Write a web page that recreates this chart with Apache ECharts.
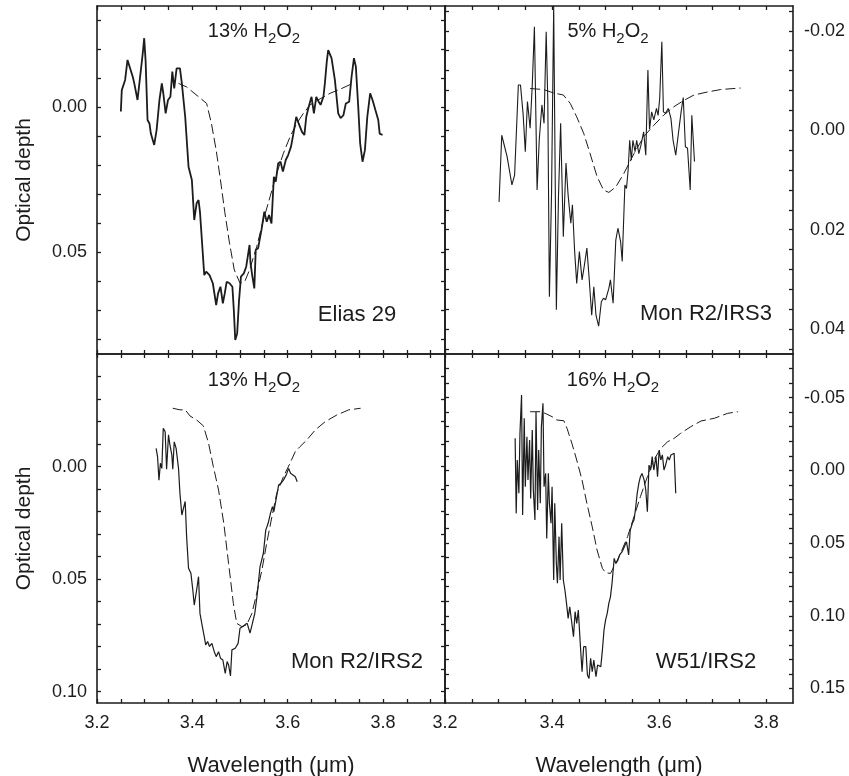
<!DOCTYPE html>
<html>
<head>
<meta charset="utf-8">
<title>Optical depth, 3.2-3.9 um</title>
<script src="https://cdn.jsdelivr.net/npm/echarts@6/dist/echarts.min.js"></script>
<style>
  html, body { margin: 0; padding: 0; background: #fff; }
  #chart { width: 849px; height: 776px; }
</style>
</head>
<body>
<div id="chart"></div>
<script>
// observed spectra and H2O2 models, [wavelength (um), optical depth]
var elias29 = [
  [3.250,0.0014],[3.252,-0.0060],[3.259,-0.0095],[3.264,-0.0164],[3.266,-0.0160],[3.275,-0.0106],[3.278,-0.0085],
  [3.285,-0.0026],[3.288,-0.0021],[3.296,-0.0187],[3.299,-0.0239],[3.302,-0.0160],[3.306,0.0043],[3.310,0.0055],
  [3.313,0.0090],[3.320,0.0129],[3.325,0.0078],[3.331,-0.0026],[3.336,-0.0083],[3.339,-0.0050],[3.344,0.0020],
  [3.349,-0.0026],[3.354,-0.0037],[3.358,-0.0124],[3.362,-0.0066],[3.367,-0.0135],[3.374,-0.0135],[3.378,-0.0083],
  [3.385,0.0032],[3.392,0.0204],[3.399,0.0250],[3.404,0.0388],[3.409,0.0330],[3.413,0.0319],[3.416,0.0360],
  [3.420,0.0457],[3.425,0.0578],[3.429,0.0566],[3.436,0.0578],[3.443,0.0606],[3.450,0.0681],[3.454,0.0641],
  [3.459,0.0618],[3.464,0.0675],[3.468,0.0641],[3.472,0.0601],[3.478,0.0606],[3.484,0.0618],[3.487,0.0698],
  [3.490,0.0802],[3.494,0.0779],[3.498,0.0664],[3.502,0.0583],[3.508,0.0572],[3.513,0.0549],[3.520,0.0474],
  [3.522,0.0537],[3.526,0.0583],[3.530,0.0624],[3.533,0.0491],[3.538,0.0485],[3.545,0.0422],[3.551,0.0359],
  [3.556,0.0394],[3.561,0.0371],[3.566,0.0400],[3.571,0.0239],[3.575,0.0256],[3.580,0.0193],[3.585,0.0187],
  [3.590,0.0221],[3.596,0.0181],[3.601,0.0164],[3.607,0.0135],[3.612,0.0090],[3.618,0.0032],[3.623,0.0055],
  [3.630,0.0084],[3.635,0.0095],[3.639,0.0032],[3.644,-0.0002],[3.650,-0.0037],[3.655,0.0020],[3.660,-0.0037],
  [3.665,-0.0020],[3.669,-0.0009],[3.675,-0.0037],[3.678,-0.0083],[3.682,-0.0158],[3.685,-0.0198],[3.692,-0.0170],
  [3.699,-0.0095],[3.706,0.0020],[3.711,0.0037],[3.717,0.0026],[3.722,-0.0014],[3.729,-0.0020],[3.734,-0.0106],
  [3.739,-0.0170],[3.743,-0.0141],[3.748,-0.0002],[3.752,0.0124],[3.757,0.0187],[3.762,0.0147],[3.767,0.0032],
  [3.773,-0.0049],[3.778,-0.0026],[3.784,0.0009],[3.790,0.0043],[3.793,0.0090],[3.799,0.0095]
];
var elias29Model = [
  [3.371,-0.0083],[3.388,-0.0071],[3.399,-0.0056],[3.416,-0.0033],[3.430,-0.0014],[3.440,0.0055],[3.450,0.0147],
  [3.459,0.0250],[3.468,0.0360],[3.478,0.0468],[3.488,0.0560],[3.500,0.0606],[3.510,0.0600],[3.520,0.0560],
  [3.535,0.0480],[3.549,0.0388],[3.563,0.0308],[3.577,0.0227],[3.591,0.0158],[3.605,0.0101],[3.619,0.0055],
  [3.633,0.0020],[3.647,-0.0009],[3.668,-0.0030],[3.689,-0.0049],[3.710,-0.0063],[3.736,-0.0083]
];

var monR2Irs3 = [
  [3.301,0.0144],[3.306,0.0010],[3.316,0.0053],[3.325,0.0110],[3.330,0.0090],[3.337,-0.0091],[3.341,-0.0091],
  [3.346,-0.0031],[3.350,0.0043],[3.354,-0.0058],[3.359,-0.0004],[3.363,-0.0091],[3.367,-0.0208],[3.372,0.0120],
  [3.376,0.0020],[3.381,-0.0051],[3.385,-0.0014],[3.389,-0.0198],[3.392,-0.0061],[3.395,0.0335],[3.399,0.0127],
  [3.403,-0.0250],[3.408,0.0361],[3.412,0.0131],[3.416,-0.0014],[3.421,0.0214],[3.426,0.0066],[3.430,0.0131],
  [3.435,0.0187],[3.438,0.0150],[3.442,0.0241],[3.446,0.0308],[3.451,0.0244],[3.456,0.0301],[3.460,0.0274],
  [3.465,0.0237],[3.469,0.0294],[3.474,0.0372],[3.478,0.0315],[3.482,0.0372],[3.487,0.0394],[3.492,0.0345],
  [3.496,0.0338],[3.500,0.0341],[3.506,0.0318],[3.509,0.0301],[3.514,0.0348],[3.519,0.0221],[3.523,0.0197],
  [3.528,0.0224],[3.531,0.0264],[3.536,0.0110],[3.539,0.0117],[3.542,0.0081],[3.545,0.0020],[3.548,0.0060],
  [3.551,0.0020],[3.555,0.0043],[3.558,0.0020],[3.562,0.0047],[3.566,0.0030],[3.571,0.0003],[3.575,0.0050],
  [3.579,-0.0121],[3.582,-0.0002],[3.586,-0.0037],[3.590,-0.0021],[3.595,-0.0044],[3.598,-0.0030],[3.601,-0.0064],
  [3.605,-0.0178],[3.608,-0.0037],[3.612,-0.0034],[3.617,-0.0044],[3.622,-0.0024],[3.626,0.0020],[3.631,0.0050],
  [3.636,0.0006],[3.641,-0.0037],[3.645,-0.0066],[3.649,0.0033],[3.653,0.0036],[3.658,0.0120],[3.661,-0.0030],
  [3.666,0.0063]
];
var monR2Irs3Model = [
  [3.359,-0.0084],[3.384,-0.0082],[3.403,-0.0075],[3.421,-0.0071],[3.434,-0.0054],[3.446,-0.0027],[3.459,0.0006],
  [3.471,0.0047],[3.484,0.0093],[3.496,0.0120],[3.506,0.0125],[3.519,0.0114],[3.534,0.0087],[3.553,0.0047],
  [3.571,0.0013],[3.590,-0.0010],[3.609,-0.0031],[3.627,-0.0047],[3.646,-0.0060],[3.665,-0.0071],[3.690,-0.0077],
  [3.715,-0.0082],[3.752,-0.0085]
];

var monR2Irs2 = [
  [3.324,-0.0081],[3.327,-0.0044],[3.330,0.0060],[3.333,-0.0015],[3.336,0.0008],[3.339,-0.0170],[3.343,-0.0155],
  [3.346,0.0012],[3.350,-0.0141],[3.353,-0.0096],[3.357,-0.0052],[3.359,0.0012],[3.362,-0.0110],[3.366,-0.0081],
  [3.371,0.0008],[3.374,0.0119],[3.378,0.0215],[3.381,0.0222],[3.385,0.0155],[3.388,0.0311],[3.392,0.0452],
  [3.397,0.0474],[3.401,0.0548],[3.404,0.0615],[3.409,0.0548],[3.413,0.0489],[3.416,0.0652],[3.421,0.0711],
  [3.425,0.0755],[3.428,0.0792],[3.432,0.0777],[3.436,0.0799],[3.441,0.0785],[3.446,0.0822],[3.450,0.0844],
  [3.455,0.0822],[3.459,0.0851],[3.464,0.0859],[3.469,0.0918],[3.473,0.0866],[3.476,0.0881],[3.480,0.0930],
  [3.483,0.0814],[3.490,0.0807],[3.496,0.0785],[3.500,0.0718],[3.505,0.0711],[3.510,0.0703],[3.515,0.0696],
  [3.521,0.0740],[3.526,0.0696],[3.531,0.0652],[3.536,0.0570],[3.542,0.0444],[3.549,0.0385],[3.554,0.0282],
  [3.559,0.0252],[3.564,0.0207],[3.568,0.0178],[3.571,0.0200],[3.576,0.0141],[3.581,0.0082],[3.586,0.0074],
  [3.591,0.0060],[3.597,0.0037],[3.602,0.0008],[3.606,0.0030],[3.611,0.0037],[3.616,0.0045],[3.620,0.0067]
];
var monR2Irs2Model = [
  [3.359,-0.0259],[3.374,-0.0252],[3.385,-0.0252],[3.395,-0.0225],[3.409,-0.0207],[3.423,-0.0181],[3.434,-0.0104],
  [3.444,0.0000],[3.455,0.0104],[3.466,0.0252],[3.476,0.0430],[3.486,0.0607],[3.493,0.0696],[3.504,0.0711],
  [3.514,0.0703],[3.525,0.0652],[3.535,0.0563],[3.546,0.0459],[3.556,0.0340],[3.567,0.0222],[3.577,0.0119],
  [3.591,0.0045],[3.605,-0.0015],[3.616,-0.0067],[3.626,-0.0089],[3.640,-0.0118],[3.658,-0.0163],[3.679,-0.0200],
  [3.703,-0.0229],[3.728,-0.0252],[3.753,-0.0259]
];

var w51Irs2 = [
  [3.331,-0.0220],[3.333,0.0296],[3.335,-0.0071],[3.338,0.0158],[3.340,-0.0254],[3.343,-0.0518],[3.345,0.0307],
  [3.348,-0.0358],[3.350,0.0113],[3.353,-0.0231],[3.355,0.0067],[3.358,-0.0208],[3.360,0.0193],[3.363,-0.0277],
  [3.365,0.0135],[3.368,0.0342],[3.370,-0.0403],[3.373,0.0273],[3.375,-0.0140],[3.378,0.0227],[3.380,-0.0300],
  [3.383,-0.0461],[3.385,0.0113],[3.388,0.0021],[3.390,0.0468],[3.393,0.0021],[3.395,0.0227],[3.398,0.0364],
  [3.400,0.0113],[3.403,0.0754],[3.405,0.0227],[3.408,0.0640],[3.410,0.0777],[3.413,0.0456],[3.415,0.0754],
  [3.418,0.0364],[3.421,0.0754],[3.424,0.0823],[3.427,0.0915],[3.430,0.1018],[3.433,0.0938],[3.437,0.1053],
  [3.440,0.1144],[3.443,0.0972],[3.446,0.1053],[3.449,0.0961],[3.453,0.1213],[3.456,0.1385],[3.459,0.1213],
  [3.463,0.1213],[3.466,0.1408],[3.469,0.1431],[3.472,0.1293],[3.475,0.1385],[3.478,0.1305],[3.482,0.1419],
  [3.485,0.1339],[3.487,0.1328],[3.491,0.1350],[3.494,0.1236],[3.497,0.1098],[3.500,0.1029],[3.503,0.0984],
  [3.506,0.0915],[3.509,0.0870],[3.512,0.0777],[3.516,0.0605],[3.519,0.0640],[3.523,0.0617],[3.526,0.0582],
  [3.531,0.0559],[3.535,0.0525],[3.539,0.0491],[3.543,0.0582],[3.546,0.0410],[3.550,0.0364],[3.553,0.0342],
  [3.556,0.0261],[3.559,0.0158],[3.562,0.0090],[3.565,0.0044],[3.568,0.0021],[3.572,0.0067],[3.575,0.0135],
  [3.578,0.0285],[3.581,-0.0036],[3.584,-0.0002],[3.587,-0.0094],[3.590,-0.0002],[3.594,-0.0094],[3.597,0.0044],
  [3.600,-0.0140],[3.603,-0.0071],[3.606,-0.0106],[3.609,-0.0002],[3.612,-0.0036],[3.616,-0.0094],[3.619,-0.0071],
  [3.622,-0.0106],[3.625,-0.0094],[3.628,-0.0117],[3.631,0.0158]
];
var w51Irs2Model = [
  [3.359,-0.0403],[3.368,-0.0403],[3.378,-0.0403],[3.387,-0.0392],[3.400,-0.0369],[3.409,-0.0346],[3.422,-0.0341],
  [3.428,-0.0288],[3.437,-0.0186],[3.446,-0.0071],[3.456,0.0067],[3.465,0.0227],[3.475,0.0388],[3.484,0.0548],
  [3.494,0.0674],[3.500,0.0704],[3.509,0.0709],[3.519,0.0640],[3.528,0.0571],[3.541,0.0456],[3.553,0.0319],
  [3.565,0.0181],[3.578,0.0044],[3.590,-0.0071],[3.603,-0.0151],[3.616,-0.0197],[3.628,-0.0220],[3.640,-0.0254],
  [3.659,-0.0300],[3.678,-0.0339],[3.703,-0.0358],[3.728,-0.0392],[3.747,-0.0403]
];

// tick marks and tick labels
var xTicksLeft = [3.2, 3.25, 3.3, 3.35, 3.4, 3.45, 3.5, 3.55, 3.6, 3.65, 3.7, 3.75, 3.8, 3.85, 3.9];
var xTicksRight = [3.2, 3.25, 3.3, 3.35, 3.4, 3.45, 3.5, 3.55, 3.6, 3.65, 3.7, 3.75, 3.8];
var xLabels = [3.2, 3.4, 3.6, 3.8];

var yTicksElias = [-0.03, -0.02, -0.01, 0, 0.01, 0.02, 0.03, 0.04, 0.05, 0.06, 0.07, 0.08];
var yLabelsElias = [0, 0.05];
var yTicksIrs3 = [-0.024, -0.02, -0.016, -0.012, -0.008, -0.004, 0, 0.004, 0.008, 0.012, 0.016, 0.02,
                  0.024, 0.028, 0.032, 0.036, 0.04, 0.044];
var yLabelsIrs3 = [-0.02, 0, 0.02, 0.04];
var yTicksIrs2 = [-0.04, -0.03, -0.02, -0.01, 0, 0.01, 0.02, 0.03, 0.04, 0.05, 0.06, 0.07, 0.08, 0.09, 0.1];
var yLabelsIrs2 = [0, 0.05, 0.1];
var yTicksW51 = [-0.07, -0.06, -0.05, -0.04, -0.03, -0.02, -0.01, 0, 0.01, 0.02, 0.03, 0.04, 0.05, 0.06,
                 0.07, 0.08, 0.09, 0.1, 0.11, 0.12, 0.13, 0.14, 0.15];
var yLabelsW51 = [-0.05, 0, 0.05, 0.1, 0.15];

var font = "'Liberation Sans', Arial, sans-serif";
var ink = '#1c1c1c';

var chart = echarts.init(document.getElementById('chart'));

// each panel: grid + bottom/top x axes + left/right y axes
var panels = [
  { box: [97, 6, 348, 348],   xmax: 3.93, xTicks: xTicksLeft,  ymin: -0.035, ymax: 0.085, yTicks: yTicksElias, yLabels: yLabelsElias, side: 'left',  bottom: false },
  { box: [445, 6, 348, 348],  xmax: 3.85, xTicks: xTicksRight, ymin: -0.025, ymax: 0.045, yTicks: yTicksIrs3,  yLabels: yLabelsIrs3,  side: 'right', bottom: false },
  { box: [97, 354, 348, 349], xmax: 3.93, xTicks: xTicksLeft,  ymin: -0.05,  ymax: 0.105, yTicks: yTicksIrs2,  yLabels: yLabelsIrs2,  side: 'left',  bottom: true },
  { box: [445, 354, 348, 349],xmax: 3.85, xTicks: xTicksRight, ymin: -0.08,  ymax: 0.16,  yTicks: yTicksW51,   yLabels: yLabelsW51,   side: 'right', bottom: true }
];

var grids = [], xAxes = [], yAxes = [];
var lineStyleAxis = { color: ink, width: 1.6 };
var tickStyle = { color: ink, width: 1.3 };

panels.forEach(function (p, i) {
  grids.push({ left: p.box[0], top: p.box[1], width: p.box[2], height: p.box[3], outerBoundsMode: 'none' });

  ['bottom', 'top'].forEach(function (pos) {
    var withLabels = pos === 'bottom' && p.bottom;
    xAxes.push({
      type: 'value', gridIndex: i, position: pos,
      min: 3.2, max: p.xmax,
      axisLine: { show: true, onZero: false, lineStyle: lineStyleAxis },
      axisTick: { show: true, inside: true, length: 4, lineStyle: tickStyle, customValues: p.xTicks },
      axisLabel: {
        show: withLabels, customValues: xLabels, margin: 11,
        fontSize: 18, fontFamily: font, color: ink,
        formatter: function (v) { return v.toFixed(1); }
      },
      splitLine: { show: false },
      name: withLabels ? 'Wavelength (μm)' : '',
      nameLocation: 'middle', nameGap: 52,
      nameTextStyle: { fontSize: 22, fontFamily: font, color: ink }
    });
  });

  ['left', 'right'].forEach(function (pos) {
    var withLabels = pos === p.side;
    yAxes.push({
      type: 'value', gridIndex: i, position: pos, inverse: true,
      min: p.ymin, max: p.ymax,
      axisLine: { show: true, onZero: false, lineStyle: lineStyleAxis },
      axisTick: { show: true, inside: true, length: 4, lineStyle: tickStyle, customValues: p.yTicks },
      axisLabel: {
        show: withLabels, customValues: p.yLabels,
        margin: pos === 'right' ? 52 : 10,
        align: 'right',
        fontSize: 18, fontFamily: font, color: ink,
        formatter: function (v) { return v.toFixed(2); }
      },
      splitLine: { show: false },
      name: (withLabels && pos === 'left') ? 'Optical depth' : '',
      nameLocation: 'middle', nameGap: 62,
      nameTextStyle: { fontSize: 21, fontFamily: font, color: ink }
    });
  });
});

function spectrum(name, data, i, width) {
  return {
    name: name, type: 'line', data: data, xAxisIndex: 2 * i, yAxisIndex: 2 * i,
    showSymbol: false, silent: true,
    lineStyle: { color: ink, width: width }
  };
}
function model(name, data, i) {
  return {
    name: name, type: 'line', data: data, xAxisIndex: 2 * i, yAxisIndex: 2 * i,
    showSymbol: false, silent: true,
    lineStyle: { color: ink, width: 1, type: [10, 4] }
  };
}

// H2O2 label with subscripts
var rich = {
  n: { fontSize: 20, fontFamily: font, fill: ink, lineHeight: 22 },
  s: { fontSize: 15, fontFamily: font, fill: ink, lineHeight: 22, padding: [15, 0, 0, 0] }
};
function h2o2(pct, x, y) {
  return {
    type: 'text', x: x, y: y, silent: true,
    style: { text: '{n|' + pct + '% H}{s|2}{n|O}{s|2}', align: 'center', verticalAlign: 'middle', rich: rich }
  };
}
function source(name, x, y) {
  return {
    type: 'text', x: x, y: y, silent: true,
    style: { text: name, align: 'center', verticalAlign: 'middle', fontSize: 22, fontFamily: font, fill: ink }
  };
}

chart.setOption({
  backgroundColor: '#fff',
  animation: false,
  grid: grids,
  xAxis: xAxes,
  yAxis: yAxes,
  series: [
    spectrum('Elias 29', elias29, 0, 1.8),
    model('13% H2O2', elias29Model, 0),
    spectrum('Mon R2/IRS3', monR2Irs3, 1, 1.1),
    model('5% H2O2', monR2Irs3Model, 1),
    spectrum('Mon R2/IRS2', monR2Irs2, 2, 1.2),
    model('13% H2O2', monR2Irs2Model, 2),
    spectrum('W51/IRS2', w51Irs2, 3, 1.2),
    model('16% H2O2', w51Irs2Model, 3)
  ],
  graphic: [
    h2o2(13, 254, 31),
    h2o2(5, 608, 31),
    h2o2(13, 254, 380),
    h2o2(16, 613, 380),
    source('Elias 29', 357, 315),
    source('Mon R2/IRS3', 706, 314),
    source('Mon R2/IRS2', 357, 662),
    source('W51/IRS2', 706, 662)
  ]
});
</script>
</body>
</html>
